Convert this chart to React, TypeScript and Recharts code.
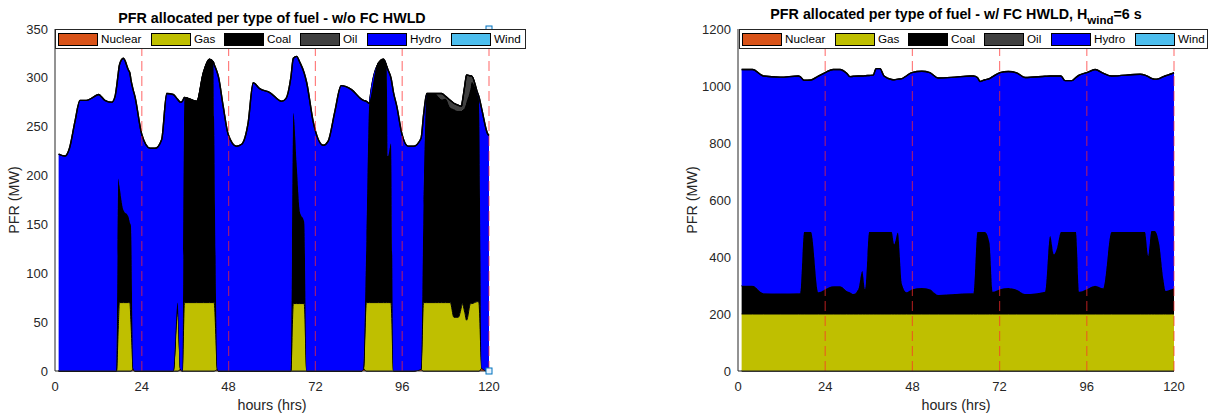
import React from "react";
import { AreaChart, Area, XAxis, YAxis, ReferenceLine, ReferenceDot } from "recharts";

// ---- left panel: w/o FC HWLD (hours and MW per fuel, stacked) ----
const hoursL = [
  1, 2.8, 4, 5.5, 6.9, 8.7, 10.5, 12, 13.8, 15.7,
  16.6, 17.0, 17.5, 17.8, 18.9, 20.3, 20.7, 21.0, 21.6, 22.1,
  24, 26.3, 27.7, 29.5, 30.9, 32.7, 33.9, 34.7, 35.2, 35.8,
  36.8, 39.2, 41, 42.7, 43.8, 44.0, 44.9, 45.2, 46.5, 47.9,
  50.2, 51.6, 53.4, 54.8, 56.6, 59.4, 62.7, 63.9, 65.2, 65.9,
  66.8, 67.7, 68.9, 69.6, 71.4, 74.2, 75.5, 77.4, 79.1, 82,
  84.8, 85.3, 86.1, 86.9, 89.4, 90.8, 91.7, 92.1, 92.9, 93.6,
  94.5, 95.9, 97.7, 99.1, 101.2, 101.9, 102.8, 105.1, 106.0, 106.9,
  108.0, 109.3, 110.3, 111.5, 112.4, 112.6, 113.3, 113.8, 114.9, 115.2,
  116.8, 117.2, 118.0, 119.6, 120,
];
const nuclearL = [
  0, 0, 0, 0, 0, 0, 0, 0, 0, 0,
  0, 0, 0, 0, 0, 0, 0, 0, 3, 0,
  0, 0, 0, 0, 0, 0, 0, 2, 0, 0,
  0, 0, 0, 0, 0, 0, 2, 0, 0, 0,
  0, 0, 0, 0, 0, 0, 0, 0, 0, 0,
  0, 0, 0, 0, 0, 0, 0, 0, 0, 0,
  0, 3, 0, 0, 0, 0, 0, 0, 0, 0,
  0, 0, 0, 0, 2, 0, 0, 0, 0, 0,
  0, 0, 0, 0, 0, 0, 0, 0, 0, 0,
  0, 0, 3, 0, 0,
];
const gasL = [
  0, 0, 0, 0, 0, 0, 0, 0, 0, 0,
  0, 0, 45, 70, 70, 70, 70, 50, 0, 0,
  0, 0, 0, 0, 0, 0, 60, 0, 0, 70,
  70, 70, 70, 70, 70, 70, 0, 0, 0, 0,
  0, 0, 0, 0, 0, 0, 0, 0, 0, 69,
  69, 69, 69, 0, 0, 0, 0, 0, 0, 0,
  0, 0, 70, 70, 70, 70, 70, 70, 70, 0,
  0, 0, 0, 0, 0, 70, 70, 70, 70, 70,
  70, 70, 55, 55, 66, 69, 60, 52, 69, 69,
  71, 70, 0, 0, 0,
];
const coalL = [
  0, 0, 0, 0, 0, 0, 0, 0, 0, 0,
  0, 0, 152, 120, 95, 88, 82, 99, 0, 0,
  0, 0, 0, 0, 0, 0, 10, 0, 0, 210,
  209, 206, 235, 249, 246, 188, 0, 0, 0, 0,
  0, 0, 0, 0, 0, 0, 0, 0, 0, 195,
  144, 94, 84, 0, 0, 0, 0, 0, 0, 0,
  0, 0, 67, 204, 245, 249, 242, 150, 163, 0,
  0, 0, 0, 0, 0, 100, 214, 214, 211, 208,
  209, 200, 213, 211, 200, 198, 210, 224, 221, 227,
  212, 208, 0, 0, 0,
];
const oilL = [
  0, 0, 0, 0, 0, 0, 0, 0, 0, 0,
  0, 0, 0, 0, 0, 0, 0, 0, 0, 0,
  0, 0, 0, 0, 0, 0, 0, 0, 0, 0,
  0, 0, 0, 0, 0, 0, 0, 0, 0, 0,
  0, 0, 0, 0, 0, 0, 0, 0, 0, 0,
  0, 0, 0, 0, 0, 0, 0, 0, 0, 0,
  0, 0, 0, 0, 0, 0, 0, 0, 0, 0,
  0, 0, 0, 0, 0, 0, 0, 0, 3, 6,
  2, 7, 6, 6, 5, 8, 22, 27, 12, 6,
  0, 0, 0, 0, 0,
];
const hydroL = [
  222, 220, 228, 255, 277, 277, 280, 283, 277, 275,
  281, 290, 108, 123, 155, 150, 153, 149, 285, 281,
  242, 228, 228, 237, 284, 283, 208, 273, 276, 0,
  0, 0, 0, 0, 0, 56, 303, 301, 271, 242,
  230, 232, 254, 295, 289, 285, 276, 279, 300, 56,
  109, 153, 152, 295, 255, 231, 235, 266, 292, 288,
  278, 274, 139, 0, 0, 0, 0, 88, 67, 285,
  271, 243, 230, 230, 236, 92, 0, 0, 0, 0,
  0, 0, 0, 0, 0, 0, 0, 0, 0, 0,
  2, 3, 265, 243, 241,
];
const windL = [
  0, 0, 0, 0, 0, 0, 0, 0, 0, 0,
  0, 0, 0, 0, 0, 0, 0, 0, 0, 0,
  0, 0, 0, 0, 0, 0, 0, 0, 0, 0,
  0, 0, 0, 0, 0, 0, 0, 0, 0, 0,
  0, 0, 0, 0, 0, 0, 0, 0, 0, 0,
  0, 0, 0, 0, 0, 0, 0, 0, 0, 0,
  0, 0, 0, 0, 0, 0, 0, 0, 0, 0,
  0, 0, 0, 0, 0, 0, 0, 0, 0, 0,
  0, 0, 0, 0, 0, 0, 0, 0, 0, 0,
  0, 0, 0, 0, 0,
];

// ---- right panel: w/ FC HWLD, H_wind = 6 s ----
const hoursR = [
  1, 4, 7, 11.6, 16.6, 17.1, 18.2, 20.1, 22.1, 24,
  26.2, 28.1, 29.9, 30.8, 31.7, 33.1, 34.2, 35.0, 36.1, 37.2,
  38.0, 39.1, 40.2, 42.3, 43.0, 44.0, 45.1, 46.4, 47.8, 50.6,
  52.8, 55.1, 59.7, 63.9, 64.8, 65.9, 66.6, 68.0, 69.2, 70.1,
  72.1, 74.4, 76.7, 79.0, 84.5, 85.9, 87.0, 87.7, 88.9, 90.0,
  91.9, 93.0, 93.9, 96.0, 98.3, 100.5, 102.8, 110.7, 112.0, 112.9,
  113.8, 114.7, 115.9, 117.1, 117.7, 119.3, 120,
];
const nuclearR = [
  0, 0, 0, 0, 0, 0, 0, 0, 0, 0,
  0, 0, 0, 0, 0, 0, 0, 0, 0, 0,
  0, 0, 0, 0, 0, 0, 0, 0, 0, 0,
  0, 0, 0, 0, 0, 0, 0, 0, 0, 0,
  0, 0, 0, 0, 0, 0, 0, 0, 0, 0,
  0, 0, 0, 0, 0, 0, 0, 0, 0, 0,
  0, 0, 0, 0, 0, 0, 0,
];
const gasR = [
  200, 200, 200, 200, 200, 200, 200, 200, 200, 200,
  200, 200, 200, 200, 200, 200, 200, 200, 200, 200,
  200, 200, 200, 200, 200, 200, 200, 200, 200, 200,
  200, 200, 200, 200, 200, 200, 200, 200, 200, 200,
  200, 200, 200, 200, 200, 200, 200, 200, 200, 200,
  200, 200, 200, 200, 200, 200, 200, 200, 200, 200,
  200, 200, 200, 200, 200, 200, 200,
];
const coalR = [
  99, 99, 73, 72, 73, 73, 288, 288, 76, 87,
  97, 97, 81, 76, 70, 87, 151, 87, 288, 288,
  288, 288, 288, 288, 245, 286, 105, 76, 86, 91,
  87, 67, 70, 73, 73, 288, 288, 288, 251, 78,
  87, 91, 85, 70, 78, 274, 210, 227, 288, 288,
  288, 288, 78, 87, 99, 90, 288, 288, 288, 204,
  291, 291, 248, 120, 81, 87, 90,
];
const oilR = [
  0, 0, 0, 0, 0, 0, 0, 0, 0, 0,
  0, 0, 0, 0, 0, 0, 0, 0, 0, 0,
  0, 0, 0, 0, 0, 0, 0, 0, 0, 0,
  0, 0, 0, 0, 0, 0, 0, 0, 0, 0,
  0, 0, 0, 0, 0, 0, 0, 0, 0, 0,
  0, 0, 0, 0, 0, 0, 0, 0, 0, 0,
  0, 0, 0, 0, 0, 0, 0,
];
const hydroR = [
  759, 759, 762, 759, 762, 760, 532, 533, 759, 760,
  761, 761, 764, 757, 764, 748, 684, 749, 549, 550,
  573, 573, 547, 535, 577, 538, 721, 760, 761, 761,
  760, 761, 761, 762, 762, 542, 528, 534, 575, 755,
  760, 760, 761, 760, 756, 561, 625, 608, 547, 531,
  531, 542, 760, 760, 759, 755, 547, 553, 550, 629,
  536, 533, 578, 713, 755, 756, 757,
];
const windR = [
  0, 0, 0, 0, 0, 0, 0, 0, 0, 0,
  0, 0, 0, 0, 0, 0, 0, 0, 0, 0,
  0, 0, 0, 0, 0, 0, 0, 0, 0, 0,
  0, 0, 0, 0, 0, 0, 0, 0, 0, 0,
  0, 0, 0, 0, 0, 0, 0, 0, 0, 0,
  0, 0, 0, 0, 0, 0, 0, 0, 0, 0,
  0, 0, 0, 0, 0, 0, 0,
];

const fuelNames = ["Nuclear", "Gas", "Coal", "Oil", "Hydro", "Wind"];
const fuelKeys = ["nuclear", "gas", "coal", "oil", "hydro", "wind"];
const fuelColors = ["#D95319", "#BFBF00", "#000000", "#404040", "#0000FF", "#4DBEEE"];

const hourTicks = [0, 24, 48, 72, 96, 120];
const dayMarks = [24, 48, 72, 96, 120];
const yTicksL = [0, 50, 100, 150, 200, 250, 300, 350];
const yTicksR = [0, 200, 400, 600, 800, 1000, 1200];
const cornerMarksL = [
  { h: 120, v: 350 },
  { h: 120, v: 0 },
];

const FONT = '"Liberation Sans", Arial, Helvetica, sans-serif';
const AXIS = "#262626";

function buildRows(hours: number[], series: number[][]) {
  return hours.map((h, i) => {
    const row: Record<string, number> = { h };
    fuelKeys.forEach((k, j) => {
      row[k] = series[j][i];
    });
    return row;
  });
}

const rowsL = buildRows(hoursL, [nuclearL, gasL, coalL, oilL, hydroL, windL]);
const rowsR = buildRows(hoursR, [nuclearR, gasR, coalR, oilR, hydroR, windR]);

function squareMark(p: any) {
  return (
    <rect x={p.cx - 3} y={p.cy - 3} width={6} height={6} fill="#e6f2ff" stroke="#0072BD" strokeWidth={1} />
  );
}

function FuelPanel({
  rows,
  yMax,
  yTicks,
  width,
  yAxisWidth,
  marginRight,
  marks,
}: {
  rows: Record<string, number>[];
  yMax: number;
  yTicks: number[];
  width: number;
  yAxisWidth: number;
  marginRight: number;
  marks: { h: number; v: number }[];
}) {
  return (
    <AreaChart
      width={width}
      height={418}
      data={rows}
      margin={{ top: 29, right: marginRight, bottom: 0, left: 0 }}
    >
      {fuelKeys.map((k, i) => (
        <Area
          key={k}
          type="monotone"
          dataKey={k}
          name={fuelNames[i]}
          stackId="fuel"
          fill={fuelColors[i]}
          fillOpacity={1}
          stroke="#000"
          strokeWidth={k === "hydro" || k === "wind" || k === "nuclear" ? 1.4 : 1}
          dot={false}
          activeDot={false}
          isAnimationActive={false}
        />
      ))}
      {dayMarks.map((d) => (
        <ReferenceLine
          key={d}
          x={d}
          stroke="#ff2a2a"
          strokeOpacity={0.6}
          strokeWidth={1.2}
          strokeDasharray="10 5"
        />
      ))}
      <XAxis
        dataKey="h"
        type="number"
        domain={[0, 120]}
        ticks={hourTicks}
        height={418 - 29 - 342}
        tick={{ fill: AXIS, fontSize: 13, fontFamily: FONT }}
        tickLine={false}
        tickMargin={5}
        axisLine={{ stroke: AXIS }}
      />
      <YAxis
        type="number"
        domain={[0, yMax]}
        ticks={yTicks}
        width={yAxisWidth}
        tick={{ fill: AXIS, fontSize: 13, fontFamily: FONT }}
        tickLine={false}
        tickMargin={1}
        axisLine={{ stroke: AXIS }}
      />
      <XAxis
        xAxisId="top"
        orientation="top"
        type="number"
        domain={[0, 120]}
        height={0}
        tick={false}
        tickLine={false}
        axisLine={{ stroke: AXIS }}
      />
      <YAxis
        yAxisId="right"
        orientation="right"
        type="number"
        domain={[0, yMax]}
        width={0}
        tick={false}
        tickLine={false}
        axisLine={{ stroke: AXIS }}
      />
      {marks.map((m, i) => (
        <ReferenceDot key={i} x={m.h} y={m.v} r={3} ifOverflow="visible" shape={squareMark} />
      ))}
    </AreaChart>
  );
}

const swatchOffsets = [3, 96, 169, 245, 312, 396];

function FuelLegend({ left, top, width }: { left: number; top: number; width: number }) {
  return (
    <div
      style={{
        position: "absolute",
        left,
        top,
        width,
        height: 20,
        boxSizing: "border-box",
        border: `1px solid ${AXIS}`,
        background: "#fff",
        fontFamily: FONT,
        fontSize: 11.7,
        color: "#000",
      }}
    >
      {fuelNames.map((name, i) => (
        <React.Fragment key={name}>
          <div
            style={{
              position: "absolute",
              left: swatchOffsets[i] - 1,
              top: 2.5,
              width: 40,
              height: 13,
              boxSizing: "border-box",
              border: "1px solid #000",
              background: fuelColors[i],
            }}
          />
          <div
            style={{
              position: "absolute",
              left: swatchOffsets[i] + 42,
              top: 2,
              lineHeight: "14px",
              whiteSpace: "nowrap",
            }}
          >
            {name}
          </div>
        </React.Fragment>
      ))}
    </div>
  );
}

const titleStyle: React.CSSProperties = {
  position: "absolute",
  textAlign: "center",
  fontWeight: "bold",
  fontSize: 14.3,
  lineHeight: "16px",
  whiteSpace: "nowrap",
  color: "#000",
};

const labelStyle: React.CSSProperties = {
  position: "absolute",
  fontSize: 14.3,
  lineHeight: "16px",
  whiteSpace: "nowrap",
  color: AXIS,
};

export default function App() {
  return (
    <div
      style={{
        position: "absolute",
        left: 0,
        top: 0,
        width: 1218,
        height: 418,
        background: "#fff",
        fontFamily: FONT,
        overflow: "hidden",
      }}
    >
      <div style={{ position: "absolute", left: 0, top: 0 }}>
        <FuelPanel
          rows={rowsL}
          yMax={350}
          yTicks={yTicksL}
          width={530}
          yAxisWidth={55}
          marginRight={41}
          marks={cornerMarksL}
        />
      </div>
      <div style={{ position: "absolute", left: 670, top: 0 }}>
        <FuelPanel
          rows={rowsR}
          yMax={1200}
          yTicks={yTicksR}
          width={540}
          yAxisWidth={68}
          marginRight={36}
          marks={[]}
        />
      </div>

      <FuelLegend left={55} top={29} width={471} />
      <FuelLegend left={739} top={29} width={469} />

      <div style={{ ...titleStyle, left: 55, width: 434, top: 10 }}>
        PFR allocated per type of fuel - w/o FC HWLD
      </div>
      <div style={{ ...titleStyle, left: 738, width: 436, top: 6 }}>
        PFR allocated per type of fuel - w/ FC HWLD, H
        <span style={{ position: "relative", top: 5, fontSize: 11.5 }}>wind</span>=6 s
      </div>

      <div style={{ ...labelStyle, left: 55, width: 434, top: 397, textAlign: "center" }}>hours (hrs)</div>
      <div style={{ ...labelStyle, left: 738, width: 436, top: 397, textAlign: "center" }}>hours (hrs)</div>

      <div
        style={{
          ...labelStyle,
          left: 14,
          top: 200,
          transform: "translate(-50%, -50%) rotate(-90deg)",
        }}
      >
        PFR (MW)
      </div>
      <div
        style={{
          ...labelStyle,
          left: 692,
          top: 200,
          transform: "translate(-50%, -50%) rotate(-90deg)",
        }}
      >
        PFR (MW)
      </div>
    </div>
  );
}
